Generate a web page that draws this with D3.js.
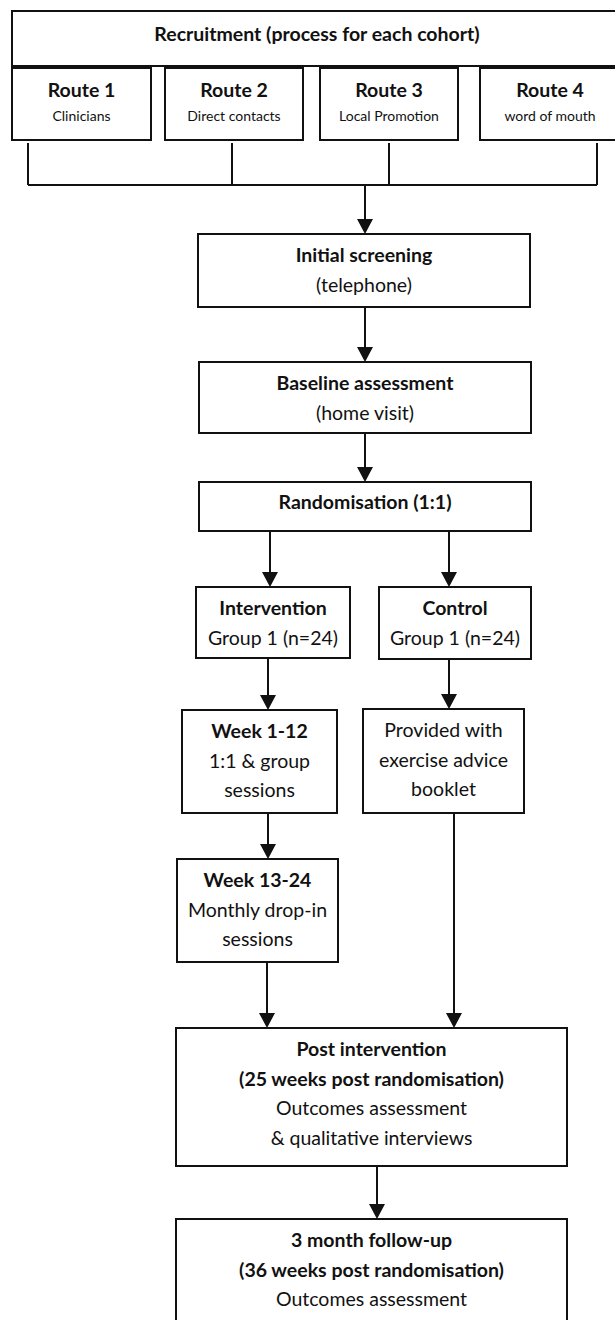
<!DOCTYPE html>
<html>
<head>
<meta charset="utf-8">
<script src="https://cdn.jsdelivr.net/npm/d3@7"></script>
<style>
  body { margin: 0; background: #fff; }
  text { font-family: Lato, "Open Sans", sans-serif; fill: #111; }
</style>
</head>
<body>
<div id="chart"></div>
<script>
// Box texts
const headerTitle = "Recruitment (process for each cohort)";
const routeNames = ["Route 1", "Route 2", "Route 3", "Route 4"];
const routeSources = ["Clinicians", "Direct contacts", "Local Promotion", "word of mouth"];

const stepIds = ["screen", "baseline", "random", "interv", "control", "week1", "booklet", "week13", "post", "follow"];
const stepBold = [
  ["Initial screening"],
  ["Baseline assessment"],
  ["Randomisation (1:1)"],
  ["Intervention"],
  ["Control"],
  ["Week 1-12"],
  [],
  ["Week 13-24"],
  ["Post intervention", "(25 weeks post randomisation)"],
  ["3 month follow-up", "(36 weeks post randomisation)"]
];
const stepPlain = [
  ["(telephone)"],
  ["(home visit)"],
  [],
  ["Group 1 (n=24)"],
  ["Group 1 (n=24)"],
  ["1:1 & group", "sessions"],
  ["Provided with", "exercise advice", "booklet"],
  ["Monthly drop-in", "sessions"],
  ["Outcomes assessment", "& qualitative interviews"],
  ["Outcomes assessment"]
];

// Links between steps: [from, to]
const links = [
  ["screen", "baseline"], ["baseline", "random"],
  ["random", "interv"], ["random", "control"],
  ["interv", "week1"], ["control", "booklet"],
  ["week1", "week13"], ["week13", "post"], ["booklet", "post"],
  ["post", "follow"]
];

// ---- layout (pixels) ----
const width = 615, height = 1320;
const header = { x0: 12, x1: 622, y0: 11, y1: 66 };
const routeBox = [[12, 151], [165, 303], [320, 458], [480, 622]];
const routeY = [68, 140];
const routeTaps = [28, 232, 389, 597];
const busY = 185, busTapTop = 143, busDrop = 365;

const box = {
  screen:   { x0: 198, x1: 530, y0: 234, y1: 307 },
  baseline: { x0: 199, x1: 531, y0: 362, y1: 433 },
  random:   { x0: 199, x1: 531, y0: 482, y1: 531 },
  interv:   { x0: 196, x1: 350, y0: 587, y1: 658 },
  control:  { x0: 379, x1: 531, y0: 587, y1: 659 },
  week1:    { x0: 182, x1: 337, y0: 710, y1: 813 },
  booklet:  { x0: 363, x1: 524, y0: 709, y1: 813 },
  week13:   { x0: 177, x1: 338, y0: 859, y1: 962 },
  post:     { x0: 176, x1: 567, y0: 1028, y1: 1166 },
  follow:   { x0: 176, x1: 567, y0: 1219, y1: 1335 }
};
// x of each link's line
const linkX = {
  "screen-baseline": 365, "baseline-random": 365,
  "random-interv": 270, "random-control": 449,
  "interv-week1": 268, "control-booklet": 449,
  "week1-week13": 268, "week13-post": 267, "booklet-post": 454,
  "post-follow": 377
};

const fontSize = 19.5, subSize = 14, lineGap = 29.5, firstLine = 28;
const stroke = "#111", sw = 2;

const svg = d3.select("#chart").append("svg")
  .attr("width", width).attr("height", height);

function drawBox(b) {
  svg.append("rect")
    .attr("x", b.x0).attr("y", b.y0)
    .attr("width", b.x1 - b.x0).attr("height", b.y1 - b.y0)
    .attr("fill", "none").attr("stroke", stroke).attr("stroke-width", sw);
}

function arrow(x, y0, y1) {
  svg.append("line")
    .attr("x1", x).attr("x2", x).attr("y1", y0).attr("y2", y1 - 12)
    .attr("stroke", stroke).attr("stroke-width", sw);
  svg.append("path")
    .attr("d", `M${x - 8},${y1 - 15} L${x + 8},${y1 - 15} L${x},${y1} Z`)
    .attr("fill", stroke);
}

// Header
drawBox(header);
svg.append("text")
  .attr("x", (header.x0 + 620) / 2 + 1).attr("y", header.y0 + 30)
  .attr("text-anchor", "middle").attr("font-weight", "bold")
  .attr("font-size", fontSize).text(headerTitle);

// Routes
const routes = svg.selectAll(".route")
  .data(routeNames.map((n, i) => ({ name: n, src: routeSources[i], x: routeBox[i] })))
  .enter().append("g").attr("class", "route");
routes.append("rect")
  .attr("x", d => d.x[0]).attr("y", routeY[0])
  .attr("width", d => d.x[1] - d.x[0]).attr("height", routeY[1] - routeY[0])
  .attr("fill", "none").attr("stroke", stroke).attr("stroke-width", sw);
routes.append("text")
  .attr("x", (d, i) => i === 3 ? 550 : (d.x[0] + d.x[1]) / 2).attr("y", routeY[0] + 29)
  .attr("text-anchor", "middle").attr("font-weight", "bold")
  .attr("font-size", fontSize).text(d => d.name);
routes.append("text")
  .attr("x", (d, i) => i === 3 ? 550 : (d.x[0] + d.x[1]) / 2).attr("y", routeY[0] + 53)
  .attr("text-anchor", "middle")
  .attr("font-size", subSize).text(d => d.src);

// Bus connector
routeTaps.forEach(x => {
  svg.append("line").attr("x1", x).attr("x2", x).attr("y1", busTapTop).attr("y2", busY)
    .attr("stroke", stroke).attr("stroke-width", sw);
});
svg.append("line")
  .attr("x1", d3.min(routeTaps)).attr("x2", d3.max(routeTaps))
  .attr("y1", busY).attr("y2", busY)
  .attr("stroke", stroke).attr("stroke-width", sw);
arrow(busDrop, busY, box.screen.y0);

// Steps
stepIds.forEach((id, i) => {
  const b = box[id];
  drawBox(b);
  const cx = (b.x0 + b.x1) / 2;
  const lines = stepBold[i].map(t => ({ t, bold: true }))
    .concat(stepPlain[i].map(t => ({ t, bold: false })));
  const off = lines.length === 1 ? 27 : firstLine;
  svg.selectAll(null).data(lines).enter().append("text")
    .attr("x", cx).attr("y", (d, j) => b.y0 + off + j * lineGap)
    .attr("text-anchor", "middle")
    .attr("font-weight", d => d.bold ? "bold" : "normal")
    .attr("font-size", fontSize)
    .text(d => d.t);
});

// Links
links.forEach(([a, b]) => {
  arrow(linkX[a + "-" + b], box[a].y1, box[b].y0);
});
</script>
</body>
</html>
